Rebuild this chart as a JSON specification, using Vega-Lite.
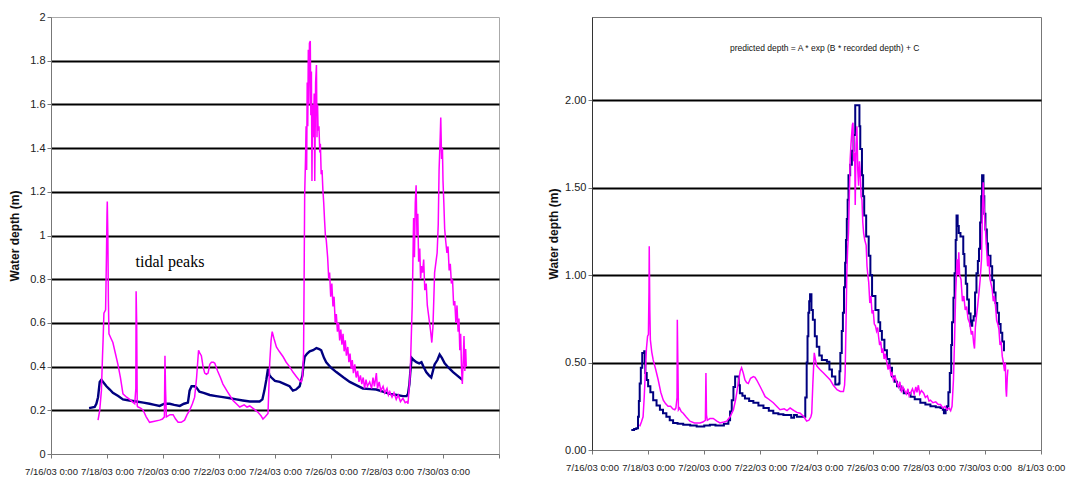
{
  "$schema": "https://vega.github.io/schema/vega-lite/v6.json",
  "background": "white",
  "padding": {"left": 8, "top": 10, "right": 5, "bottom": 2},
  "spacing": 47,
  "config": {
    "view": {"stroke": "#aaaaaa"},
    "axis": {
      "labelFont": "Liberation Sans",
      "labelFontSize": 11,
      "labelColor": "#222222",
      "titleFont": "Liberation Sans",
      "titleFontWeight": "bold",
      "titleFontSize": 12,
      "titleColor": "#111111",
      "domainColor": "#777777",
      "tickColor": "#777777",
      "tickSize": 4,
      "labelPadding": 2
    }
  },
  "datasets": {
    "left_recorded": [
      {"day":1.36,"depth":0.21},{"day":1.56,"depth":0.215},{"day":1.62,"depth":0.23},{"day":1.68,"depth":0.26},{"day":1.74,"depth":0.33},{"day":1.8,"depth":0.34},{"day":1.86,"depth":0.33},{"day":1.98,"depth":0.31},{"day":2.1,"depth":0.295},{"day":2.21,"depth":0.28},{"day":2.4,"depth":0.265},{"day":2.57,"depth":0.25},{"day":2.8,"depth":0.245},{"day":3.05,"depth":0.24},{"day":3.3,"depth":0.235},{"day":3.52,"depth":0.23},{"day":3.7,"depth":0.225},{"day":3.88,"depth":0.22},{"day":4.05,"depth":0.23},{"day":4.24,"depth":0.23},{"day":4.4,"depth":0.225},{"day":4.6,"depth":0.22},{"day":4.75,"depth":0.23},{"day":4.89,"depth":0.235},{"day":4.95,"depth":0.29},{"day":5.02,"depth":0.31},{"day":5.12,"depth":0.31},{"day":5.19,"depth":0.305},{"day":5.3,"depth":0.285},{"day":5.45,"depth":0.28},{"day":5.67,"depth":0.27},{"day":5.9,"depth":0.265},{"day":6.14,"depth":0.26},{"day":6.4,"depth":0.255},{"day":6.62,"depth":0.25},{"day":6.85,"depth":0.245},{"day":7.1,"depth":0.24},{"day":7.3,"depth":0.24},{"day":7.45,"depth":0.24},{"day":7.55,"depth":0.25},{"day":7.62,"depth":0.29},{"day":7.69,"depth":0.34},{"day":7.75,"depth":0.39},{"day":7.8,"depth":0.36},{"day":7.87,"depth":0.35},{"day":8.0,"depth":0.335},{"day":8.17,"depth":0.33},{"day":8.35,"depth":0.32},{"day":8.52,"depth":0.31},{"day":8.64,"depth":0.29},{"day":8.75,"depth":0.295},{"day":8.88,"depth":0.31},{"day":8.94,"depth":0.34},{"day":8.98,"depth":0.36},{"day":9.02,"depth":0.41},{"day":9.06,"depth":0.445},{"day":9.15,"depth":0.46},{"day":9.24,"depth":0.47},{"day":9.36,"depth":0.475},{"day":9.48,"depth":0.485},{"day":9.58,"depth":0.48},{"day":9.65,"depth":0.475},{"day":9.75,"depth":0.44},{"day":9.83,"depth":0.42},{"day":10.0,"depth":0.395},{"day":10.19,"depth":0.375},{"day":10.45,"depth":0.35},{"day":10.67,"depth":0.33},{"day":10.9,"depth":0.315},{"day":11.14,"depth":0.3},{"day":11.4,"depth":0.297},{"day":11.62,"depth":0.295},{"day":11.85,"depth":0.285},{"day":12.1,"depth":0.275},{"day":12.35,"depth":0.27},{"day":12.57,"depth":0.265},{"day":12.7,"depth":0.265},{"day":12.75,"depth":0.275},{"day":12.8,"depth":0.32},{"day":12.83,"depth":0.37},{"day":12.88,"depth":0.44},{"day":12.95,"depth":0.43},{"day":13.05,"depth":0.42},{"day":13.15,"depth":0.415},{"day":13.23,"depth":0.42},{"day":13.3,"depth":0.4},{"day":13.4,"depth":0.375},{"day":13.5,"depth":0.36},{"day":13.58,"depth":0.35},{"day":13.64,"depth":0.38},{"day":13.7,"depth":0.41},{"day":13.8,"depth":0.43},{"day":13.88,"depth":0.455},{"day":13.96,"depth":0.44},{"day":14.06,"depth":0.415},{"day":14.2,"depth":0.395},{"day":14.36,"depth":0.375},{"day":14.5,"depth":0.36},{"day":14.69,"depth":0.34}
    ],
    "left_reference": [
      {"day":1.68,"depth":0.155},{"day":1.74,"depth":0.2},{"day":1.8,"depth":0.29},{"day":1.84,"depth":0.45},{"day":1.86,"depth":0.52},{"day":1.89,"depth":0.645},{"day":1.95,"depth":0.66},{"day":1.98,"depth":0.9},{"day":2.0,"depth":1.1},{"day":2.01,"depth":1.155},{"day":2.03,"depth":1.0},{"day":2.05,"depth":0.7},{"day":2.07,"depth":0.55},{"day":2.14,"depth":0.53},{"day":2.21,"depth":0.51},{"day":2.3,"depth":0.46},{"day":2.39,"depth":0.41},{"day":2.48,"depth":0.35},{"day":2.57,"depth":0.275},{"day":2.7,"depth":0.26},{"day":2.81,"depth":0.25},{"day":2.9,"depth":0.24},{"day":2.99,"depth":0.23},{"day":3.03,"depth":0.3},{"day":3.04,"depth":0.745},{"day":3.06,"depth":0.6},{"day":3.08,"depth":0.22},{"day":3.11,"depth":0.215},{"day":3.2,"depth":0.21},{"day":3.29,"depth":0.2},{"day":3.4,"depth":0.17},{"day":3.52,"depth":0.145},{"day":3.7,"depth":0.15},{"day":3.88,"depth":0.155},{"day":3.98,"depth":0.16},{"day":4.05,"depth":0.17},{"day":4.07,"depth":0.45},{"day":4.09,"depth":0.3},{"day":4.12,"depth":0.17},{"day":4.25,"depth":0.18},{"day":4.36,"depth":0.18},{"day":4.45,"depth":0.16},{"day":4.54,"depth":0.145},{"day":4.65,"depth":0.145},{"day":4.77,"depth":0.155},{"day":4.86,"depth":0.18},{"day":4.95,"depth":0.2},{"day":5.05,"depth":0.23},{"day":5.13,"depth":0.26},{"day":5.2,"depth":0.35},{"day":5.27,"depth":0.475},{"day":5.32,"depth":0.46},{"day":5.37,"depth":0.45},{"day":5.43,"depth":0.4},{"day":5.49,"depth":0.37},{"day":5.55,"depth":0.365},{"day":5.61,"depth":0.37},{"day":5.67,"depth":0.41},{"day":5.73,"depth":0.42},{"day":5.8,"depth":0.42},{"day":5.85,"depth":0.415},{"day":5.95,"depth":0.38},{"day":6.05,"depth":0.35},{"day":6.14,"depth":0.32},{"day":6.3,"depth":0.285},{"day":6.5,"depth":0.245},{"day":6.62,"depth":0.23},{"day":6.74,"depth":0.215},{"day":6.9,"depth":0.225},{"day":7.0,"depth":0.215},{"day":7.1,"depth":0.22},{"day":7.25,"depth":0.205},{"day":7.4,"depth":0.19},{"day":7.5,"depth":0.175},{"day":7.57,"depth":0.16},{"day":7.65,"depth":0.17},{"day":7.75,"depth":0.185},{"day":7.78,"depth":0.3},{"day":7.81,"depth":0.415},{"day":7.86,"depth":0.52},{"day":7.9,"depth":0.56},{"day":7.96,"depth":0.53},{"day":8.05,"depth":0.49},{"day":8.15,"depth":0.47},{"day":8.29,"depth":0.445},{"day":8.4,"depth":0.42},{"day":8.52,"depth":0.4},{"day":8.64,"depth":0.375},{"day":8.76,"depth":0.355},{"day":8.85,"depth":0.34},{"day":8.94,"depth":0.33},{"day":8.98,"depth":0.35},{"day":9.02,"depth":0.46},{"day":9.04,"depth":0.8},{"day":9.06,"depth":1.19},{"day":9.09,"depth":1.35},{"day":9.11,"depth":1.5},{"day":9.13,"depth":1.3},{"day":9.15,"depth":1.7},{"day":9.17,"depth":1.5},{"day":9.19,"depth":1.85},{"day":9.21,"depth":1.6},{"day":9.23,"depth":1.88},{"day":9.26,"depth":1.89},{"day":9.28,"depth":1.55},{"day":9.3,"depth":1.75},{"day":9.32,"depth":1.25},{"day":9.34,"depth":1.6},{"day":9.37,"depth":1.45},{"day":9.4,"depth":1.65},{"day":9.42,"depth":1.25},{"day":9.45,"depth":1.7},{"day":9.48,"depth":1.78},{"day":9.5,"depth":1.45},{"day":9.52,"depth":1.6},{"day":9.54,"depth":1.48},{"day":9.57,"depth":1.5},{"day":9.6,"depth":1.38},{"day":9.62,"depth":1.42},{"day":9.65,"depth":1.28},{"day":9.68,"depth":1.3},{"day":9.71,"depth":1.21},{"day":9.74,"depth":1.15},{"day":9.77,"depth":1.07},{"day":9.8,"depth":1.0},{"day":9.83,"depth":0.98},{"day":9.88,"depth":0.9},{"day":9.92,"depth":0.8},{"day":9.95,"depth":0.83},{"day":9.99,"depth":0.72},{"day":10.03,"depth":0.78},{"day":10.07,"depth":0.675},{"day":10.11,"depth":0.72},{"day":10.15,"depth":0.6},{"day":10.19,"depth":0.64},{"day":10.23,"depth":0.56},{"day":10.27,"depth":0.6},{"day":10.31,"depth":0.52},{"day":10.35,"depth":0.57},{"day":10.39,"depth":0.5},{"day":10.43,"depth":0.55},{"day":10.47,"depth":0.47},{"day":10.51,"depth":0.52},{"day":10.55,"depth":0.45},{"day":10.6,"depth":0.49},{"day":10.64,"depth":0.42},{"day":10.68,"depth":0.46},{"day":10.72,"depth":0.39},{"day":10.76,"depth":0.43},{"day":10.8,"depth":0.37},{"day":10.85,"depth":0.41},{"day":10.9,"depth":0.35},{"day":10.95,"depth":0.38},{"day":11.0,"depth":0.33},{"day":11.05,"depth":0.36},{"day":11.1,"depth":0.32},{"day":11.15,"depth":0.35},{"day":11.2,"depth":0.3},{"day":11.25,"depth":0.34},{"day":11.3,"depth":0.31},{"day":11.38,"depth":0.33},{"day":11.45,"depth":0.3},{"day":11.5,"depth":0.35},{"day":11.55,"depth":0.31},{"day":11.62,"depth":0.37},{"day":11.66,"depth":0.3},{"day":11.72,"depth":0.33},{"day":11.78,"depth":0.29},{"day":11.86,"depth":0.31},{"day":11.92,"depth":0.28},{"day":12.0,"depth":0.3},{"day":12.05,"depth":0.27},{"day":12.1,"depth":0.285},{"day":12.18,"depth":0.26},{"day":12.25,"depth":0.28},{"day":12.33,"depth":0.25},{"day":12.4,"depth":0.27},{"day":12.48,"depth":0.24},{"day":12.57,"depth":0.255},{"day":12.65,"depth":0.235},{"day":12.72,"depth":0.24},{"day":12.75,"depth":0.23},{"day":12.79,"depth":0.3},{"day":12.83,"depth":0.37},{"day":12.87,"depth":0.55},{"day":12.9,"depth":0.675},{"day":12.95,"depth":1.08},{"day":12.98,"depth":0.9},{"day":13.01,"depth":1.15},{"day":13.04,"depth":1.23},{"day":13.07,"depth":1.0},{"day":13.1,"depth":1.1},{"day":13.13,"depth":0.88},{"day":13.17,"depth":0.94},{"day":13.2,"depth":0.8},{"day":13.23,"depth":0.86},{"day":13.27,"depth":0.83},{"day":13.31,"depth":0.89},{"day":13.35,"depth":0.75},{"day":13.4,"depth":0.78},{"day":13.44,"depth":0.68},{"day":13.48,"depth":0.64},{"day":13.52,"depth":0.6},{"day":13.56,"depth":0.56},{"day":13.6,"depth":0.51},{"day":13.64,"depth":0.58},{"day":13.67,"depth":0.7},{"day":13.7,"depth":0.83},{"day":13.75,"depth":0.88},{"day":13.79,"depth":0.92},{"day":13.83,"depth":1.05},{"day":13.86,"depth":1.3},{"day":13.9,"depth":1.45},{"day":13.92,"depth":1.54},{"day":13.95,"depth":1.35},{"day":13.98,"depth":1.4},{"day":14.0,"depth":1.25},{"day":14.03,"depth":1.15},{"day":14.06,"depth":1.03},{"day":14.1,"depth":0.97},{"day":14.14,"depth":0.92},{"day":14.18,"depth":0.95},{"day":14.22,"depth":0.84},{"day":14.26,"depth":0.87},{"day":14.3,"depth":0.78},{"day":14.34,"depth":0.8},{"day":14.38,"depth":0.68},{"day":14.42,"depth":0.7},{"day":14.46,"depth":0.6},{"day":14.5,"depth":0.68},{"day":14.54,"depth":0.56},{"day":14.57,"depth":0.62},{"day":14.6,"depth":0.475},{"day":14.63,"depth":0.55},{"day":14.66,"depth":0.4},{"day":14.69,"depth":0.32},{"day":14.72,"depth":0.42},{"day":14.75,"depth":0.54},{"day":14.78,"depth":0.38},{"day":14.81,"depth":0.48},{"day":14.83,"depth":0.4}
    ],
    "right_predicted": [
      {"day":1.4,"depth":0.115},{"day":1.5,"depth":0.12},{"day":1.58,"depth":0.125},{"day":1.64,"depth":0.19},{"day":1.67,"depth":0.28},{"day":1.7,"depth":0.38},{"day":1.74,"depth":0.47},{"day":1.79,"depth":0.555},{"day":1.86,"depth":0.565},{"day":1.88,"depth":0.5},{"day":1.9,"depth":0.44},{"day":1.95,"depth":0.4},{"day":2.0,"depth":0.365},{"day":2.08,"depth":0.33},{"day":2.18,"depth":0.285},{"day":2.3,"depth":0.255},{"day":2.42,"depth":0.23},{"day":2.53,"depth":0.21},{"day":2.65,"depth":0.19},{"day":2.77,"depth":0.17},{"day":2.89,"depth":0.155},{"day":3.05,"depth":0.15},{"day":3.25,"depth":0.145},{"day":3.5,"depth":0.14},{"day":3.73,"depth":0.135},{"day":4.0,"depth":0.14},{"day":4.2,"depth":0.145},{"day":4.4,"depth":0.14},{"day":4.56,"depth":0.14},{"day":4.7,"depth":0.15},{"day":4.86,"depth":0.17},{"day":4.92,"depth":0.22},{"day":4.98,"depth":0.285},{"day":5.04,"depth":0.36},{"day":5.1,"depth":0.42},{"day":5.19,"depth":0.42},{"day":5.23,"depth":0.37},{"day":5.27,"depth":0.325},{"day":5.36,"depth":0.31},{"day":5.45,"depth":0.295},{"day":5.6,"depth":0.28},{"day":5.75,"depth":0.27},{"day":5.93,"depth":0.255},{"day":6.11,"depth":0.24},{"day":6.3,"depth":0.225},{"day":6.46,"depth":0.21},{"day":6.64,"depth":0.205},{"day":6.82,"depth":0.2},{"day":7.0,"depth":0.2},{"day":7.1,"depth":0.185},{"day":7.2,"depth":0.2},{"day":7.3,"depth":0.19},{"day":7.54,"depth":0.19},{"day":7.6,"depth":0.3},{"day":7.65,"depth":0.5},{"day":7.68,"depth":0.65},{"day":7.71,"depth":0.785},{"day":7.74,"depth":0.85},{"day":7.77,"depth":0.89},{"day":7.82,"depth":0.8},{"day":7.87,"depth":0.745},{"day":7.94,"depth":0.65},{"day":8.01,"depth":0.59},{"day":8.1,"depth":0.54},{"day":8.19,"depth":0.515},{"day":8.37,"depth":0.505},{"day":8.46,"depth":0.46},{"day":8.55,"depth":0.42},{"day":8.67,"depth":0.375},{"day":8.79,"depth":0.38},{"day":8.82,"depth":0.45},{"day":8.85,"depth":0.555},{"day":8.9,"depth":0.68},{"day":8.94,"depth":0.785},{"day":8.98,"depth":0.93},{"day":9.02,"depth":1.07},{"day":9.05,"depth":1.2},{"day":9.08,"depth":1.32},{"day":9.11,"depth":1.43},{"day":9.14,"depth":1.57},{"day":9.2,"depth":1.63},{"day":9.26,"depth":1.71},{"day":9.32,"depth":1.8},{"day":9.38,"depth":1.97},{"day":9.5,"depth":1.97},{"day":9.53,"depth":1.85},{"day":9.56,"depth":1.72},{"day":9.62,"depth":1.57},{"day":9.66,"depth":1.45},{"day":9.7,"depth":1.34},{"day":9.77,"depth":1.22},{"day":9.86,"depth":1.11},{"day":9.92,"depth":1.0},{"day":9.98,"depth":0.88},{"day":10.1,"depth":0.8},{"day":10.21,"depth":0.73},{"day":10.27,"depth":0.68},{"day":10.33,"depth":0.63},{"day":10.42,"depth":0.57},{"day":10.51,"depth":0.52},{"day":10.6,"depth":0.47},{"day":10.69,"depth":0.42},{"day":10.78,"depth":0.39},{"day":10.87,"depth":0.365},{"day":11.0,"depth":0.345},{"day":11.11,"depth":0.325},{"day":11.35,"depth":0.305},{"day":11.5,"depth":0.29},{"day":11.7,"depth":0.27},{"day":11.88,"depth":0.26},{"day":12.06,"depth":0.25},{"day":12.25,"depth":0.245},{"day":12.42,"depth":0.24},{"day":12.5,"depth":0.23},{"day":12.54,"depth":0.21},{"day":12.6,"depth":0.23},{"day":12.65,"depth":0.25},{"day":12.7,"depth":0.33},{"day":12.75,"depth":0.44},{"day":12.8,"depth":0.6},{"day":12.83,"depth":0.73},{"day":12.88,"depth":0.87},{"day":12.92,"depth":1.01},{"day":12.96,"depth":1.2},{"day":12.99,"depth":1.34},{"day":13.03,"depth":1.28},{"day":13.07,"depth":1.24},{"day":13.13,"depth":1.22},{"day":13.19,"depth":1.22},{"day":13.23,"depth":1.12},{"day":13.27,"depth":1.05},{"day":13.32,"depth":0.95},{"day":13.37,"depth":0.86},{"day":13.43,"depth":0.78},{"day":13.49,"depth":0.71},{"day":13.55,"depth":0.74},{"day":13.6,"depth":0.765},{"day":13.65,"depth":0.9},{"day":13.7,"depth":1.01},{"day":13.75,"depth":1.08},{"day":13.79,"depth":1.15},{"day":13.83,"depth":1.3},{"day":13.87,"depth":1.45},{"day":13.9,"depth":1.57},{"day":13.95,"depth":1.45},{"day":13.98,"depth":1.35},{"day":14.02,"depth":1.26},{"day":14.07,"depth":1.18},{"day":14.11,"depth":1.11},{"day":14.2,"depth":1.05},{"day":14.26,"depth":0.97},{"day":14.32,"depth":0.9},{"day":14.38,"depth":0.84},{"day":14.44,"depth":0.785},{"day":14.5,"depth":0.72},{"day":14.56,"depth":0.67},{"day":14.62,"depth":0.62},{"day":14.68,"depth":0.565}
    ],
    "right_reference": [
      {"day":1.7,"depth":0.135},{"day":1.76,"depth":0.16},{"day":1.82,"depth":0.19},{"day":1.86,"depth":0.3},{"day":1.9,"depth":0.44},{"day":1.94,"depth":0.58},{"day":1.98,"depth":0.65},{"day":2.01,"depth":0.66},{"day":2.03,"depth":0.9},{"day":2.04,"depth":1.165},{"day":2.06,"depth":0.8},{"day":2.08,"depth":0.63},{"day":2.13,"depth":0.56},{"day":2.18,"depth":0.515},{"day":2.27,"depth":0.46},{"day":2.36,"depth":0.4},{"day":2.45,"depth":0.33},{"day":2.54,"depth":0.285},{"day":2.62,"depth":0.265},{"day":2.71,"depth":0.25},{"day":2.8,"depth":0.25},{"day":2.88,"depth":0.235},{"day":2.95,"depth":0.23},{"day":2.99,"depth":0.24},{"day":3.03,"depth":0.3},{"day":3.04,"depth":0.745},{"day":3.06,"depth":0.5},{"day":3.08,"depth":0.23},{"day":3.12,"depth":0.24},{"day":3.18,"depth":0.22},{"day":3.25,"depth":0.21},{"day":3.35,"depth":0.19},{"day":3.49,"depth":0.165},{"day":3.65,"depth":0.155},{"day":3.85,"depth":0.155},{"day":3.95,"depth":0.16},{"day":4.04,"depth":0.17},{"day":4.06,"depth":0.44},{"day":4.08,"depth":0.2},{"day":4.11,"depth":0.17},{"day":4.2,"depth":0.18},{"day":4.32,"depth":0.18},{"day":4.45,"depth":0.165},{"day":4.56,"depth":0.155},{"day":4.7,"depth":0.16},{"day":4.8,"depth":0.165},{"day":4.92,"depth":0.19},{"day":5.04,"depth":0.23},{"day":5.12,"depth":0.29},{"day":5.21,"depth":0.38},{"day":5.28,"depth":0.45},{"day":5.33,"depth":0.47},{"day":5.39,"depth":0.44},{"day":5.45,"depth":0.4},{"day":5.51,"depth":0.385},{"day":5.57,"depth":0.38},{"day":5.65,"depth":0.41},{"day":5.75,"depth":0.42},{"day":5.81,"depth":0.415},{"day":5.87,"depth":0.4},{"day":6.0,"depth":0.36},{"day":6.17,"depth":0.305},{"day":6.3,"depth":0.29},{"day":6.46,"depth":0.27},{"day":6.58,"depth":0.25},{"day":6.7,"depth":0.23},{"day":6.85,"depth":0.235},{"day":6.95,"depth":0.225},{"day":7.06,"depth":0.24},{"day":7.2,"depth":0.225},{"day":7.3,"depth":0.215},{"day":7.42,"depth":0.21},{"day":7.55,"depth":0.19},{"day":7.65,"depth":0.165},{"day":7.73,"depth":0.17},{"day":7.8,"depth":0.19},{"day":7.83,"depth":0.21},{"day":7.87,"depth":0.38},{"day":7.92,"depth":0.555},{"day":7.96,"depth":0.52},{"day":8.01,"depth":0.48},{"day":8.12,"depth":0.46},{"day":8.25,"depth":0.44},{"day":8.37,"depth":0.42},{"day":8.49,"depth":0.4},{"day":8.6,"depth":0.37},{"day":8.73,"depth":0.345},{"day":8.85,"depth":0.335},{"day":8.96,"depth":0.335},{"day":9.0,"depth":0.37},{"day":9.02,"depth":0.44},{"day":9.05,"depth":0.7},{"day":9.08,"depth":1.01},{"day":9.11,"depth":1.15},{"day":9.14,"depth":1.24},{"day":9.17,"depth":1.45},{"day":9.2,"depth":1.66},{"day":9.23,"depth":1.75},{"day":9.26,"depth":1.82},{"day":9.28,"depth":1.86},{"day":9.3,"depth":1.87},{"day":9.33,"depth":1.65},{"day":9.36,"depth":1.7},{"day":9.38,"depth":1.4},{"day":9.41,"depth":1.75},{"day":9.44,"depth":1.85},{"day":9.47,"depth":1.6},{"day":9.5,"depth":1.51},{"day":9.53,"depth":1.65},{"day":9.56,"depth":1.59},{"day":9.59,"depth":1.45},{"day":9.62,"depth":1.43},{"day":9.65,"depth":1.3},{"day":9.68,"depth":1.24},{"day":9.72,"depth":1.2},{"day":9.77,"depth":1.17},{"day":9.8,"depth":1.05},{"day":9.83,"depth":1.0},{"day":9.86,"depth":0.96},{"day":9.9,"depth":0.84},{"day":9.94,"depth":0.88},{"day":9.98,"depth":0.78},{"day":10.02,"depth":0.8},{"day":10.06,"depth":0.72},{"day":10.1,"depth":0.71},{"day":10.14,"depth":0.68},{"day":10.18,"depth":0.7},{"day":10.21,"depth":0.65},{"day":10.25,"depth":0.6},{"day":10.29,"depth":0.62},{"day":10.33,"depth":0.555},{"day":10.37,"depth":0.58},{"day":10.41,"depth":0.52},{"day":10.45,"depth":0.55},{"day":10.51,"depth":0.5},{"day":10.55,"depth":0.46},{"day":10.6,"depth":0.49},{"day":10.65,"depth":0.43},{"day":10.69,"depth":0.44},{"day":10.74,"depth":0.4},{"day":10.8,"depth":0.42},{"day":10.87,"depth":0.38},{"day":10.92,"depth":0.36},{"day":10.97,"depth":0.39},{"day":11.03,"depth":0.33},{"day":11.08,"depth":0.36},{"day":11.14,"depth":0.34},{"day":11.2,"depth":0.32},{"day":11.26,"depth":0.35},{"day":11.3,"depth":0.31},{"day":11.35,"depth":0.325},{"day":11.42,"depth":0.35},{"day":11.48,"depth":0.32},{"day":11.54,"depth":0.36},{"day":11.58,"depth":0.33},{"day":11.63,"depth":0.37},{"day":11.68,"depth":0.32},{"day":11.74,"depth":0.34},{"day":11.82,"depth":0.325},{"day":11.88,"depth":0.3},{"day":11.95,"depth":0.31},{"day":12.01,"depth":0.28},{"day":12.06,"depth":0.285},{"day":12.15,"depth":0.27},{"day":12.25,"depth":0.275},{"day":12.34,"depth":0.26},{"day":12.42,"depth":0.26},{"day":12.5,"depth":0.24},{"day":12.58,"depth":0.25},{"day":12.65,"depth":0.23},{"day":12.72,"depth":0.24},{"day":12.78,"depth":0.225},{"day":12.83,"depth":0.25},{"day":12.88,"depth":0.4},{"day":12.92,"depth":0.63},{"day":12.96,"depth":0.9},{"day":13.01,"depth":1.09},{"day":13.04,"depth":1.0},{"day":13.07,"depth":1.13},{"day":13.1,"depth":1.0},{"day":13.15,"depth":0.975},{"day":13.2,"depth":0.85},{"day":13.25,"depth":0.88},{"day":13.3,"depth":0.8},{"day":13.35,"depth":0.82},{"day":13.4,"depth":0.75},{"day":13.46,"depth":0.725},{"day":13.52,"depth":0.66},{"day":13.56,"depth":0.68},{"day":13.6,"depth":0.61},{"day":13.63,"depth":0.58},{"day":13.66,"depth":0.7},{"day":13.7,"depth":0.765},{"day":13.74,"depth":0.82},{"day":13.79,"depth":0.9},{"day":13.83,"depth":0.97},{"day":13.88,"depth":1.09},{"day":13.91,"depth":1.35},{"day":13.94,"depth":1.53},{"day":13.97,"depth":1.4},{"day":14.0,"depth":1.3},{"day":14.02,"depth":1.26},{"day":14.06,"depth":1.15},{"day":14.1,"depth":1.05},{"day":14.14,"depth":1.11},{"day":14.18,"depth":0.98},{"day":14.22,"depth":0.95},{"day":14.26,"depth":0.92},{"day":14.3,"depth":0.85},{"day":14.34,"depth":0.88},{"day":14.38,"depth":0.82},{"day":14.42,"depth":0.74},{"day":14.46,"depth":0.72},{"day":14.5,"depth":0.69},{"day":14.54,"depth":0.6},{"day":14.58,"depth":0.62},{"day":14.62,"depth":0.535},{"day":14.66,"depth":0.5},{"day":14.7,"depth":0.45},{"day":14.73,"depth":0.5},{"day":14.75,"depth":0.35},{"day":14.77,"depth":0.305},{"day":14.8,"depth":0.42},{"day":14.82,"depth":0.46}
    ]
  },
  "hconcat": [
    {
      "width": 448,
      "height": 437,
      "layer": [
        {
          "data": {"name": "left_recorded"},
          "mark": {"type": "line", "color": "#000080", "strokeWidth": 2.4},
          "encoding": {
            "x": {"field": "day", "type": "quantitative", "scale": {"domain": [0, 16], "nice": false},
              "axis": {"title": null, "values": [0,2,4,6,8,10,12,14,16], "grid": false, "labelOverlap": false, "labelFlush": false, "labelFontSize": 9.5, "labelPadding": 8,
                "labelExpr": "datum.value >= 16 ? '' : timeFormat(datetime(2003, 6, 16 + datum.value), '%-m/%-d/%y %-H:%M')"}},
            "y": {"field": "depth", "type": "quantitative", "scale": {"domain": [0, 2], "nice": false},
              "axis": {"title": "Water depth (m)", "values": [0,0.2,0.4,0.6,0.8,1,1.2,1.4,1.6,1.8,2], "format": "~g", "titlePadding": 8, "labelFlush": false,
                "grid": true, "gridWidth": 2.2, "gridColor": {"condition": {"test": "datum.value == 0 || datum.value == 2", "value": "transparent"}, "value": "#000000"}}}
          }
        },
        {
          "data": {"name": "left_reference"},
          "mark": {"type": "line", "color": "#ff00ff", "strokeWidth": 1.5},
          "encoding": {
            "x": {"field": "day", "type": "quantitative"},
            "y": {"field": "depth", "type": "quantitative"}
          }
        },
        {
          "data": {"values": [{"day": 4.25, "depth": 0.88, "note": "tidal peaks"}]},
          "mark": {"type": "text", "font": "Liberation Serif", "fontSize": 16, "color": "#000000"},
          "encoding": {
            "x": {"field": "day", "type": "quantitative"},
            "y": {"field": "depth", "type": "quantitative"},
            "text": {"field": "note"}
          }
        }
      ]
    },
    {
      "width": 449,
      "height": 433,
      "view": {"stroke": "#777777"},
      "layer": [
        {
          "data": {"name": "right_predicted"},
          "mark": {"type": "line", "color": "#000080", "strokeWidth": 2, "interpolate": "step-after"},
          "encoding": {
            "x": {"field": "day", "type": "quantitative", "scale": {"domain": [0, 16], "nice": false},
              "axis": {"title": null, "values": [0,2,4,6,8,10,12,14,16], "grid": false, "labelOverlap": false, "labelFlush": false, "labelFontSize": 9.5, "labelPadding": 8,
                "labelExpr": "timeFormat(datetime(2003, 6, 16 + datum.value), '%-m/%-d/%y %-H:%M')"}},
            "y": {"field": "depth", "type": "quantitative", "scale": {"domain": [0, 2.475], "nice": false},
              "axis": {"title": "Water depth (m)", "values": [0,0.5,1,1.5,2], "format": ".2f", "titlePadding": 4, "domainColor": "#333333", "labelFlush": false,
                "grid": true, "gridWidth": 2, "gridColor": {"condition": {"test": "datum.value == 0", "value": "transparent"}, "value": "#000000"}}}
          }
        },
        {
          "data": {"name": "right_reference"},
          "mark": {"type": "line", "color": "#ff00ff", "strokeWidth": 1.5},
          "encoding": {
            "x": {"field": "day", "type": "quantitative"},
            "y": {"field": "depth", "type": "quantitative"}
          }
        },
        {
          "data": {"values": [{"day": 8.29, "depth": 2.3, "note": "predicted depth = A * exp (B * recorded depth) + C"}]},
          "mark": {"type": "text", "font": "Liberation Sans", "fontSize": 8.5, "color": "#111111"},
          "encoding": {
            "x": {"field": "day", "type": "quantitative"},
            "y": {"field": "depth", "type": "quantitative"},
            "text": {"field": "note"}
          }
        }
      ]
    }
  ]
}
